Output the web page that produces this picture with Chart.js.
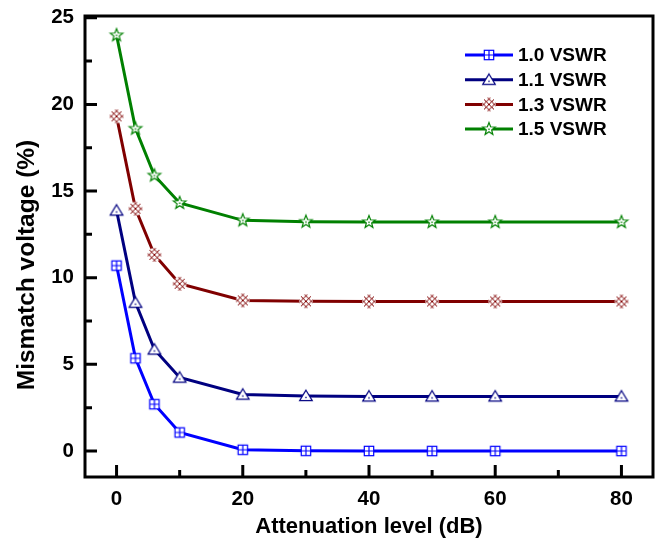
<!DOCTYPE html>
<html>
<head>
<meta charset="utf-8">
<script src="https://cdn.jsdelivr.net/npm/chart.js@4/dist/chart.umd.min.js"></script>
<style>
  html, body { margin: 0; padding: 0; background: #fff; }
  #wrap { width: 668px; height: 540px; }
</style>
</head>
<body>
<div id="wrap"><canvas id="c" width="668" height="540"></canvas></div>
<script>
// Attenuation level (dB) and mismatch voltage (%) for each source VSWR
const attenuation = [0, 3, 6, 10, 20, 30, 40, 50, 60, 80];
const vswr10 = [10.7, 5.35, 2.7, 1.07, 0.07, 0.01, 0, 0, 0, 0];
const vswr11 = [13.88, 8.56, 5.86, 4.24, 3.26, 3.18, 3.15, 3.15, 3.15, 3.15];
const vswr13 = [19.31, 13.98, 11.32, 9.65, 8.69, 8.64, 8.63, 8.63, 8.63, 8.63];
const vswr15 = [23.99, 18.6, 15.9, 14.31, 13.31, 13.23, 13.21, 13.21, 13.21, 13.21];
const seriesNames = ['1.0 VSWR', '1.1 VSWR', '1.3 VSWR', '1.5 VSWR'];
const xTickValues = [0, 20, 40, 60, 80];
const xMinorValues = [10, 30, 50, 70];
const yTickValues = [0, 5, 10, 15, 20, 25];
const yMinorValues = [2.5, 7.5, 12.5, 17.5, 22.5];

const FONT = '"Liberation Sans", Arial, Helvetica, sans-serif';
const colors = ['#0000ff', '#000080', '#800000', '#008000'];
const kinds = ['square', 'triangle', 'hatch', 'star'];

// Hollow marker glyphs rendered once to small canvases
function markerCanvas(kind, color) {
  const s = 18;
  const c = document.createElement('canvas');
  c.width = s; c.height = s;
  const g = c.getContext('2d');
  g.translate(s / 2, s / 2);
  g.strokeStyle = color;
  g.fillStyle = '#fff';
  g.lineWidth = 1.2;
  if (kind === 'square') {
    const h = 4.7;
    g.fillRect(-h, -h, 2 * h, 2 * h);
    g.strokeRect(-h, -h, 2 * h, 2 * h);
    g.beginPath();
    g.moveTo(0, -h); g.lineTo(0, h);
    g.moveTo(-h, 0); g.lineTo(h, 0);
    g.stroke();
  } else if (kind === 'triangle') {
    g.beginPath();
    g.moveTo(0, -5.8); g.lineTo(6.3, 4.6); g.lineTo(-6.3, 4.6);
    g.closePath();
    g.fill(); g.stroke();
    g.fillStyle = color;
    g.fillRect(-0.7, 0.8, 1.4, 1.4);
  } else if (kind === 'hatch') {
    g.beginPath();
    g.arc(0, 0, 7, 0, Math.PI * 2);
    g.fill();
    g.save();
    g.clip();
    g.lineWidth = 1;
    g.beginPath();
    for (const o of [-5.4, 0, 5.4]) {
      g.moveTo(-9, -9 + o); g.lineTo(9, 9 + o);
      g.moveTo(-9, 9 + o); g.lineTo(9, -9 + o);
    }
    g.stroke();
    g.restore();
  } else if (kind === 'star') {
    g.beginPath();
    for (let i = 0; i < 10; i++) {
      const r = i % 2 ? 2.8 : 6.6;
      const a = -Math.PI / 2 + i * Math.PI / 5;
      g.lineTo(r * Math.cos(a), r * Math.sin(a));
    }
    g.closePath();
    g.fill(); g.stroke();
    g.fillStyle = color;
    g.fillRect(-0.7, -0.5, 1.4, 1.4);
  }
  return c;
}

const markers = kinds.map((k, i) => markerCanvas(k, colors[i]));
const seriesValues = [vswr10, vswr11, vswr13, vswr15];

const datasets = seriesValues.map((vals, i) => ({
  label: seriesNames[i],
  data: attenuation.map((x, j) => ({ x: x, y: vals[j] })),
  borderColor: colors[i],
  backgroundColor: colors[i],
  borderWidth: 3,
  tension: 0,
  pointStyle: markers[i],
  pointRadius: 6,
  pointHoverRadius: 6,
  clip: false
}));

// Frame, inward ticks, rotated y title and the line+marker legend
const framePlugin = {
  id: 'frame',
  afterDraw(chart) {
    const { ctx, chartArea: a, scales } = chart;
    const xs = scales.x, ys = scales.y;
    ctx.save();
    ctx.strokeStyle = '#000';
    ctx.lineWidth = 3;
    ctx.lineCap = 'butt';
    ctx.beginPath();
    xTickValues.forEach(v => { const p = xs.getPixelForValue(v); ctx.moveTo(p, a.bottom); ctx.lineTo(p, a.bottom - 12); });
    xMinorValues.forEach(v => { const p = xs.getPixelForValue(v); ctx.moveTo(p, a.bottom); ctx.lineTo(p, a.bottom - 7); });
    yTickValues.forEach(v => { const p = ys.getPixelForValue(v); ctx.moveTo(a.left, p); ctx.lineTo(a.left + 12, p); });
    yMinorValues.forEach(v => { const p = ys.getPixelForValue(v); ctx.moveTo(a.left, p); ctx.lineTo(a.left + 7, p); });
    ctx.stroke();
    ctx.strokeRect(a.left, a.top, a.right - a.left, a.bottom - a.top);

    // y axis title
    ctx.save();
    ctx.translate(27, 265);
    ctx.rotate(-Math.PI / 2);
    ctx.fillStyle = '#000';
    ctx.font = 'bold 24.5px ' + FONT;
    ctx.textAlign = 'center';
    ctx.textBaseline = 'middle';
    ctx.fillText('Mismatch voltage (%)', 0, 0);
    ctx.restore();

    // legend
    ctx.font = 'bold 19px ' + FONT;
    ctx.textAlign = 'left';
    ctx.textBaseline = 'middle';
    chart.data.datasets.forEach((ds, i) => {
      const y = 55 + i * 24.7;
      ctx.strokeStyle = ds.borderColor;
      ctx.lineWidth = 3;
      ctx.beginPath();
      ctx.moveTo(465, y); ctx.lineTo(513, y);
      ctx.stroke();
      const m = markers[i];
      ctx.drawImage(m, 489 - m.width / 2, y - m.height / 2);
      ctx.fillStyle = '#000';
      ctx.fillText(ds.label, 518, y + 1);
    });
    ctx.restore();
  }
};

new Chart(document.getElementById('c'), {
  type: 'line',
  data: { datasets: datasets },
  options: {
    responsive: false,
    animation: false,
    layout: { padding: { left: 0, top: 16, right: 15, bottom: 0 } },
    plugins: { legend: { display: false }, tooltip: { enabled: false } },
    scales: {
      x: {
        type: 'linear',
        min: -5,
        max: 85,
        afterBuildTicks: s => { s.ticks = xTickValues.map(v => ({ value: v })); },
        afterFit: s => { s.height = 63; s.paddingLeft = 0; s.paddingRight = 0; },
        grid: { display: false, drawTicks: false, tickLength: 0 },
        border: { display: false },
        ticks: {
          color: '#000',
          padding: 10,
          maxRotation: 0,
          font: { family: FONT, size: 20.5, weight: 'bold' }
        },
        title: {
          display: true,
          text: 'Attenuation level (dB)',
          color: '#000',
          padding: { top: 0, bottom: 0 },
          font: { family: FONT, size: 22, weight: 'bold' }
        }
      },
      y: {
        type: 'linear',
        min: -1.5,
        max: 25.1,
        afterBuildTicks: s => { s.ticks = yTickValues.map(v => ({ value: v })); },
        afterFit: s => { s.width = 85; s.paddingTop = 0; s.paddingBottom = 0; },
        grid: { display: false, drawTicks: false, tickLength: 0 },
        border: { display: false },
        ticks: {
          color: '#000',
          padding: 11,
          font: { family: FONT, size: 20.5, weight: 'bold' }
        }
      }
    }
  },
  plugins: [framePlugin]
});
</script>
</body>
</html>
